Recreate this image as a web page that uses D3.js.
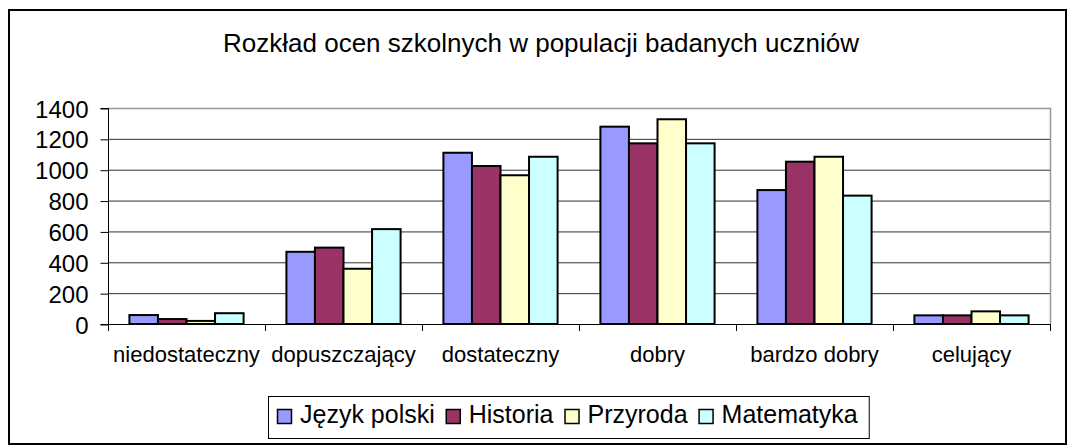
<!DOCTYPE html>
<html>
<head>
<meta charset="utf-8">
<script src="https://cdn.jsdelivr.net/npm/d3@7"></script>
<style>
  body { margin: 0; background: #fff; }
  text { font-family: "Liberation Sans", Arial, sans-serif; fill: #000; }
</style>
</head>
<body>
<svg id="chart" width="1068" height="446"></svg>
<script>
// Data
const categories = ['niedostateczny', 'dopuszczający', 'dostateczny', 'dobry', 'bardzo dobry', 'celujący'];
const seriesNames = ['Język polski', 'Historia', 'Przyroda', 'Matematyka'];
const jezykPolski = [58, 468, 1110, 1279, 868, 56];
const historia = [32, 495, 1024, 1171, 1052, 56];
const przyroda = [20, 358, 964, 1327, 1084, 82];
const matematyka = [70, 615, 1084, 1171, 832, 56];
const seriesColors = ['#9999ff', '#993366', '#ffffcc', '#ccffff'];
const yTicks = [0, 200, 400, 600, 800, 1000, 1200, 1400];

const seriesValues = [jezykPolski, historia, przyroda, matematyka];

const svg = d3.select('#chart');
const plot = { left: 108, right: 1050, top: 108, bottom: 324 };

// Outer chart border
svg.append('rect')
    .attr('x', 9).attr('y', 10)
    .attr('width', 1057).attr('height', 434)
    .attr('fill', 'none')
    .attr('stroke', '#000')
    .attr('stroke-width', 2);

// Title
svg.append('text')
    .attr('x', 541).attr('y', 52)
    .attr('text-anchor', 'middle')
    .style('font-size', '26px')
    .text('Rozkład ocen szkolnych w populacji badanych uczniów');

// Scales
const x = d3.scaleBand()
    .domain(categories)
    .range([plot.left, plot.right]);

const bandStep = x.bandwidth();
const barWidth = bandStep / (seriesNames.length + 1.5);   // Excel gap width 150%
const x1 = d3.scaleBand()
    .domain(seriesNames)
    .range([0, barWidth * seriesNames.length]);
const groupOffset = (bandStep - barWidth * seriesNames.length) / 2;

const y = d3.scaleLinear()
    .domain([0, 1400])
    .range([plot.bottom, plot.top]);

// Gridlines
svg.append('g')
    .selectAll('line')
    .data(yTicks.filter(t => t > 0 && t < 1400))
    .enter()
    .append('line')
    .attr('x1', plot.left).attr('x2', plot.right)
    .attr('y1', d => y(d) + 0.5).attr('y2', d => y(d) + 0.5)
    .attr('stroke', '#333')
    .attr('stroke-width', 1);

// Plot area border (top and right)
svg.append('path')
    .attr('d', `M${plot.left},${y(1400) + 0.5}H${plot.right + 0.5}V${plot.bottom}`)
    .attr('fill', 'none')
    .attr('stroke', '#999')
    .attr('stroke-width', 1.5);

// Bars
const groups = svg.append('g')
    .selectAll('g')
    .data(categories)
    .enter()
    .append('g')
    .attr('transform', d => `translate(${x(d) + groupOffset},0)`);

groups.selectAll('rect')
    .data((d, i) => seriesNames.map((s, j) => ({ series: s, value: seriesValues[j][i], color: seriesColors[j] })))
    .enter()
    .append('rect')
    .attr('x', d => x1(d.series))
    .attr('y', d => y(d.value))
    .attr('width', x1.bandwidth())
    .attr('height', d => y(0) - y(d.value))
    .attr('fill', d => d.color)
    .attr('stroke', '#000')
    .attr('stroke-width', 2);

// Y axis
const yAxis = d3.axisLeft(y)
    .tickValues(yTicks)
    .tickSize(8)
    .tickPadding(12)
    .tickFormat(d3.format('d'));

const yAxisG = svg.append('g')
    .attr('transform', `translate(${plot.left + 0.5},0.5)`)
    .call(yAxis);
yAxisG.select('.domain').attr('d', `M-8,${plot.top}H0V${plot.bottom}H-8`).attr('stroke', '#000');
yAxisG.selectAll('text')
    .style('font-size', '24px')
    .style('font-family', '"Liberation Sans", Arial, sans-serif')
    .attr('dy', '0.36em');

// X axis
const boundaries = d3.range(categories.length + 1).map(i => plot.left + i * bandStep);
const xAxisG = svg.append('g');
xAxisG.append('line')
    .attr('x1', plot.left).attr('x2', plot.right + 0.5)
    .attr('y1', plot.bottom + 0.5).attr('y2', plot.bottom + 0.5)
    .attr('stroke', '#000');
xAxisG.selectAll('line.tick')
    .data(boundaries)
    .enter()
    .append('line')
    .attr('class', 'tick')
    .attr('x1', d => Math.round(d) + 0.5).attr('x2', d => Math.round(d) + 0.5)
    .attr('y1', plot.bottom).attr('y2', plot.bottom + 7)
    .attr('stroke', '#000');
xAxisG.selectAll('text')
    .data(categories)
    .enter()
    .append('text')
    .attr('x', d => x(d) + bandStep / 2)
    .attr('y', 362)
    .attr('text-anchor', 'middle')
    .style('font-size', '22px')
    .text(d => d);

// Legend
const legend = svg.append('g');
const legendBox = legend.append('rect')
    .attr('y', 396.5)
    .attr('height', 42)
    .attr('fill', '#fff')
    .attr('stroke', '#000')
    .attr('stroke-width', 1);

let cursor = 277;
seriesNames.forEach((name, i) => {
    legend.append('rect')
        .attr('x', cursor + 0.5).attr('y', 409.5)
        .attr('width', 14).attr('height', 14)
        .attr('fill', seriesColors[i])
        .attr('stroke', '#000')
        .attr('stroke-width', 1.5);
    const t = legend.append('text')
        .attr('x', cursor + 23)
        .attr('y', 423)
        .style('font-size', '25px')
        .text(name);
    cursor += 23 + t.node().getComputedTextLength() + 11;
});
legendBox.attr('x', 268.5).attr('width', cursor - 268);
</script>
</body>
</html>
